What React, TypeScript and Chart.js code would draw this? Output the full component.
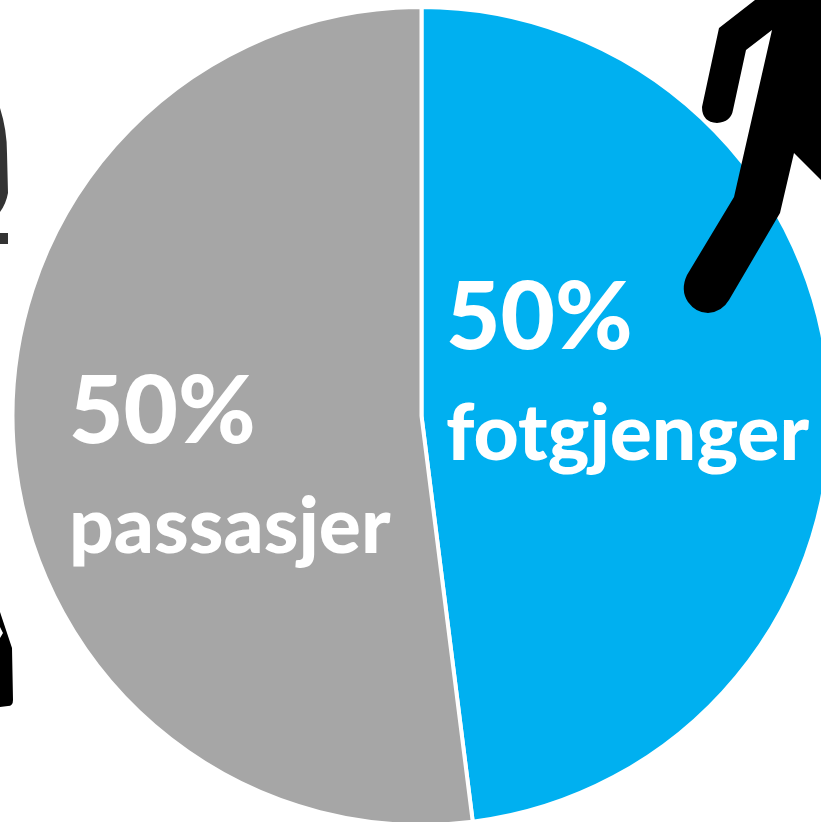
import React, { useEffect, useRef } from "react";
import { Chart, registerables } from "chart.js";

Chart.register(...registerables);

const categories = ["fotgjenger", "passasjer"];
const sliceValues = [48, 52];
const shownPercents = ["50%", "50%"];
const sliceColors = ["#00B0F0", "#A6A6A6"];

const FONT = "Lato, Carlito, 'Noto Sans', sans-serif";

const overlay = {
  id: "overlay",
  afterDraw(chart: any) {
    const { ctx } = chart;
    ctx.save();
    // labels
    ctx.fillStyle = "#fff";
    ctx.textAlign = "left";
    ctx.textBaseline = "alphabetic";
    const put = (t: string, x: number, y: number, size: number) => {
      ctx.font = `900 ${size}px ${FONT}`;
      ctx.fillText(t, x, y);
    };
    put(shownPercents[0], 446, 349, 94);
    put(categories[0], 446, 460, 78.5);
    put(shownPercents[1], 69, 443, 94);
    put(categories[1], 69, 553, 78.5);

    // walking figure silhouette (decoration)
    ctx.fillStyle = "#000";
    ctx.beginPath();
    ctx.moveTo(755, 0);
    ctx.lineTo(719, 28);
    ctx.lineTo(702, 107);
    ctx.quadraticCurveTo(702, 122, 717, 123);
    ctx.quadraticCurveTo(731, 122, 733, 110);
    ctx.lineTo(746, 50);
    ctx.lineTo(772, 30);
    ctx.lineTo(734, 197);
    ctx.lineTo(687, 275);
    ctx.quadraticCurveTo(680, 290, 688, 302);
    ctx.quadraticCurveTo(696, 313, 708, 313);
    ctx.quadraticCurveTo(722, 312, 729, 300);
    ctx.lineTo(780, 213);
    ctx.lineTo(794, 153);
    ctx.lineTo(821, 180);
    ctx.lineTo(821, 0);
    ctx.closePath();
    ctx.fill();

    // cropped figure at the left edge, upper part
    ctx.fillStyle = "#333";
    ctx.beginPath();
    ctx.moveTo(0, 108);
    ctx.quadraticCurveTo(7, 130, 7, 153);
    ctx.lineTo(8, 193);
    ctx.quadraticCurveTo(6, 204, 0, 212);
    ctx.closePath();
    ctx.fill();
    ctx.fillRect(0, 233, 8, 11);

    // cropped figure at the left edge, lower part
    ctx.fillStyle = "#000";
    ctx.beginPath();
    ctx.moveTo(0, 612);
    ctx.lineTo(12, 648);
    ctx.lineTo(13, 700);
    ctx.quadraticCurveTo(13, 706, 8, 706);
    ctx.lineTo(0, 707);
    ctx.lineTo(0, 638);
    ctx.lineTo(3, 633);
    ctx.lineTo(0, 627);
    ctx.closePath();
    ctx.fill();
    ctx.restore();
  },
};

export default function App() {
  const ref = useRef<HTMLCanvasElement>(null);
  useEffect(() => {
    document.body.style.margin = "0";
    const chart = new Chart(ref.current!, {
      type: "pie",
      data: {
        labels: categories,
        datasets: [
          {
            data: sliceValues,
            backgroundColor: sliceColors,
            borderColor: "#fff",
            borderWidth: 4,
            radius: 409,
          } as any,
        ],
      },
      options: {
        animation: false,
        responsive: false,
        layout: { padding: 0 },
        plugins: { legend: { display: false }, tooltip: { enabled: false } },
      },
      plugins: [overlay],
    });
    return () => chart.destroy();
  }, []);
  return (
    <div style={{ width: 821, height: 822, overflow: "hidden", position: "relative", background: "#fff" }}>
      <canvas ref={ref} width={843} height={832} style={{ display: "block", width: 843, height: 832 }} />
    </div>
  );
}
